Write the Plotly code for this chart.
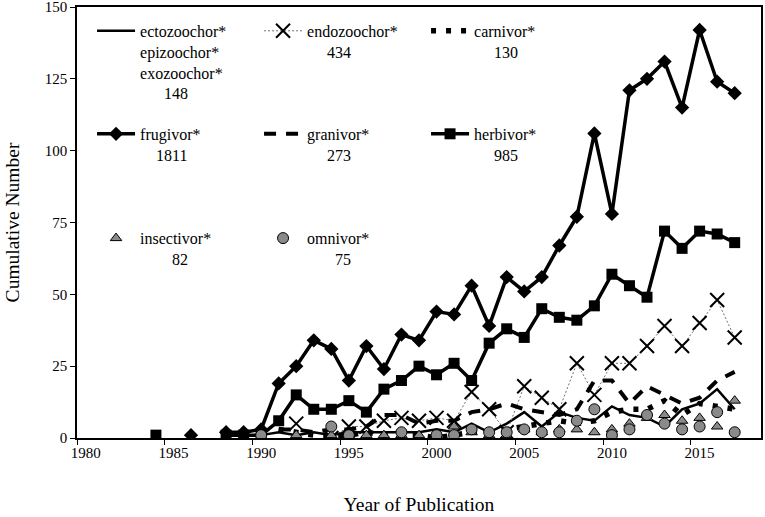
import plotly.graph_objects as go

# publication years shown on the chart
years = list(range(1984, 2018))

# counts per year (None = no publication that year)
#              1984  1985  1986  1987  1988 1989 1990 1991 1992 1993 1994 1995 1996 1997 1998 1999 2000 2001 2002 2003 2004 2005 2006 2007 2008 2009 2010 2011 2012 2013 2014 2015 2016 2017
ectozoochor = [None, None, None, None, None, None, 1, 2, 1, 2, 1, 2, 2, 2, 2, 2, 3, 2, 5, 2, 5, 9, 4, 9, 7, 6, 11, 8, 7, 4, 10, 12, 17, 10]
endozoochor = [None, None, None, None, None, None, None, None, 5, None, 0, 4, 4, 6, 7, 6, 7, 6, 16, 10, 2, 18, 14, 10, 26, 15, 26, 26, 32, 39, 32, 40, 48, 35]
carnivor = [None, None, None, None, None, None, None, 3, 2, 1, 1, 1, 2, 1, 1, 1, 0, 1, 2, 2, 3, 4, 5, 6, 5, 6, 9, 10, 10, 13, 8, 12, 11, 10]
frugivor = [None, None, 1, None, 2, 2, 3, 19, 25, 34, 31, 20, 32, 24, 36, 34, 44, 43, 53, 39, 56, 51, 56, 67, 77, 106, 78, 121, 125, 131, 115, 142, 124, 120]
granivor = [None, None, None, None, None, None, None, 3, 3, 2, 3, 3, 4, 8, 8, 5, 6, 6, 9, 10, 12, 10, 9, 8, 10, 20, 20, 12, 18, 15, 12, 14, 20, 23]
herbivor = [1, None, None, None, 1, 1, 1, 6, 15, 10, 10, 13, 9, 17, 20, 25, 22, 26, 20, 33, 38, 35, 45, 42, 41, 46, 57, 53, 49, 72, 66, 72, 71, 68]
insectivor = [None, None, None, None, None, None, None, None, 1, None, 1, 1, 1, 1, 1, 1, 1, 4, 2, 1, 1, 3, 2, 3, 3, 2, 3, 5, 7, 8, 6, 7, 4, 13]
omnivor = [None, None, None, None, None, None, 1, None, None, None, 4, 1, None, None, 2, None, 1, 1, 3, 2, 2, 3, 2, 2, 6, 10, 1, 3, 8, 5, 3, 4, 9, 2]

nb = "\u00a0"
names = {
    "ecto": "ectozoochor*<br>epizoochor*<br>exozoochor*<br>" + nb * 6 + "148",
    "endo": "endozoochor*<br>" + nb * 5 + "434",
    "carn": "carnivor*<br>" + nb * 5 + "130",
    "frug": "frugivor*<br>" + nb * 4 + "1811",
    "gran": "granivor*<br>" + nb * 5 + "273",
    "herb": "herbivor*<br>" + nb * 5 + "985",
    "insect": "insectivor*<br>" + nb * 8 + "82",
    "omni": "omnivor*<br>" + nb * 7 + "75",
}

FONT = "Liberation Serif, Times New Roman, serif"
GREY = "#8a8a8a"

fig = go.Figure()

fig.add_trace(go.Scatter(x=years, y=ectozoochor, name=names["ecto"], mode="lines",
                         line=dict(color="black", width=2.5), legend="legend"))
fig.add_trace(go.Scatter(x=years, y=endozoochor, name=names["endo"], mode="lines+markers",
                         line=dict(color="#707070", width=1, dash="2px,2px"),
                         marker=dict(symbol="x-thin-open", size=14, color="black",
                                     line=dict(color="black", width=2)),
                         legend="legend"))
fig.add_trace(go.Scatter(x=years, y=carnivor, name=names["carn"], mode="lines",
                         line=dict(color="black", width=5.5, dash="5px,10px"), legend="legend"))
fig.add_trace(go.Scatter(x=years, y=frugivor, name=names["frug"], mode="lines+markers",
                         line=dict(color="black", width=3.5),
                         marker=dict(symbol="diamond", size=11, color="black"), legend="legend2"))
fig.add_trace(go.Scatter(x=years, y=granivor, name=names["gran"], mode="lines",
                         line=dict(color="black", width=4, dash="12px,10px"), legend="legend2"))
fig.add_trace(go.Scatter(x=years, y=herbivor, name=names["herb"], mode="lines+markers",
                         line=dict(color="black", width=3.5),
                         marker=dict(symbol="square", size=11, color="black"), legend="legend2"))
fig.add_trace(go.Scatter(x=years, y=insectivor, name=names["insect"], mode="markers",
                         marker=dict(symbol="triangle-up", size=10, color=GREY,
                                     line=dict(color="black", width=1)), legend="legend3"))
fig.add_trace(go.Scatter(x=years, y=omnivor, name=names["omni"], mode="markers",
                         marker=dict(symbol="circle", size=11, color=GREY,
                                     line=dict(color="black", width=1)), legend="legend3"))

leg = dict(orientation="h", xanchor="left", yanchor="top", x=0.022,
           bgcolor="rgba(0,0,0,0)", borderwidth=0, valign="top",
           itemwidth=38, entrywidth=114, entrywidthmode="pixels",
           font=dict(family=FONT, size=16, color="black"))

fig.update_layout(
    width=765, height=517,
    margin=dict(l=77, r=4, t=7, b=79),
    paper_bgcolor="white", plot_bgcolor="white",
    font=dict(family=FONT, color="black"),
    showlegend=True,
    legend=dict(leg, y=0.984),
    legend2=dict(leg, y=0.745),
    legend3=dict(leg, y=0.503),
    xaxis=dict(
        range=[1979.5, 2018.5], automargin=False,
        tickvals=list(range(1980, 2016, 5)),
        ticks="", showgrid=False, zeroline=False,
        showline=True, linecolor="black", linewidth=1.5, mirror=True,
        minor=dict(tickvals=[1979.5 + 5 * i for i in range(8)], ticks="outside",
                   ticklen=5, tickcolor="black", tickwidth=1, showgrid=False),
        tickfont=dict(family=FONT, size=15, color="black"),
        title=dict(text="Year of Publication", font=dict(family=FONT, size=19.5, color="black"),
                   standoff=38),
    ),
    yaxis=dict(
        range=[0, 150], tickvals=[0, 25, 50, 75, 100, 125, 150], automargin=False,
        ticks="outside", ticklen=5, tickcolor="black", ticklabeloverflow="allow",
        showgrid=False, zeroline=False,
        showline=True, linecolor="black", linewidth=1.5, mirror=True,
        tickfont=dict(family=FONT, size=15, color="black"),
        title=dict(text="Cumulative Number", font=dict(family=FONT, size=19.5, color="black"),
                   standoff=20),
    ),
)

fig.write_html("out.html", config={"displayModeBar": False},
               post_script="document.body.style.margin = '0';")
